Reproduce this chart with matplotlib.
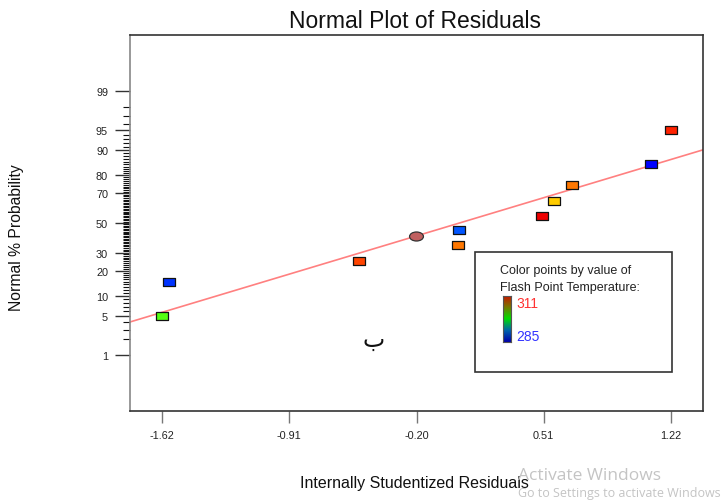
import numpy as np
import matplotlib
matplotlib.use("Agg")
import matplotlib.pyplot as plt
from matplotlib.colors import LinearSegmentedColormap
from matplotlib.patches import Rectangle
from matplotlib.path import Path
from statistics import NormalDist

# data
residuals = [-1.62, -1.58, -0.52, 0.03, 0.035, 0.50, 0.57, 0.67, 1.11, 1.22]
probability = [5, 15, 25, 35, 45, 55, 65, 75, 85, 95]
point_colors = ["#55ff11", "#0033ff", "#ff4400", "#ff7700", "#0055ff",
                "#ee0000", "#ffcc00", "#ff7700", "#0000ff", "#ff2200"]
center_x = -0.205
center_p = 41
fit_mean = 0.04
fit_sd = 1.054
x_ticks = [-1.62, -0.91, -0.20, 0.51, 1.22]
x_lim = (-1.80, 1.40)
y_ticks = [1, 5, 10, 20, 30, 50, 70, 80, 90, 95, 99]
temp_high = 311
temp_low = 285

plt.rcParams['font.family'] = ['Liberation Sans', 'DejaVu Sans']

nd = NormalDist()
_ppf = np.vectorize(lambda v: nd.inv_cdf(v / 100.0), otypes=[float])
_cdf = np.vectorize(lambda v: nd.cdf(v) * 100.0, otypes=[float])


def to_z(p):
    p = np.clip(np.asarray(p, dtype=float), 1e-9, 100 - 1e-9)
    return _ppf(p)


def to_p(z):
    return _cdf(np.asarray(z, dtype=float))


fig = plt.figure(figsize=(7.21, 5.02), dpi=100)
ax = fig.add_axes([130 / 721, 90 / 502, 573 / 721, 376 / 502])
ax.set_yscale('function', functions=(to_z, to_p))
ax.set_xlim(*x_lim)
ax.set_ylim(float(to_p(-3.316)), float(to_p(3.316)))

# fitted normal line
xl = np.array(x_lim)
ax.plot(xl, to_p((xl - fit_mean) / fit_sd), color="#ff8080", lw=1.2, zorder=2)

rect = Path([(-1, -0.64), (1, -0.64), (1, 0.64), (-1, 0.64), (-1, -0.64)], closed=True)
circ = Path.unit_circle()
ell = Path(circ.vertices * np.array([1.0, 0.65]), circ.codes)

for x, p, c in zip(residuals, probability, point_colors):
    ax.plot([x], [p], marker=rect, ms=9.2, mfc="#c8c8c8", mec="none", ls="none", zorder=3)
    ax.plot([x], [p], marker=rect, ms=8, mfc=c, mec="#111111", mew=0.9, ls="none", zorder=4)
ax.plot([center_x], [center_p], marker=ell, ms=10, mfc="#c06060", mec="#333333",
        mew=0.9, ls="none", zorder=4)

ax.set_xticks(x_ticks)
ax.set_xticklabels(["%.2f" % v for v in x_ticks])
ax.set_yticks(y_ticks)
ax.set_yticklabels([str(v) for v in y_ticks])
minor = [v for v in range(2, 99) if v not in y_ticks]
ax.set_yticks(minor, minor=True)
ax.tick_params(axis='x', length=8.6, width=1, color="#777777", labelsize=7.8,
               pad=5, labelcolor="#222222")
ax.tick_params(axis='y', which='major', length=10.8, width=1, color="#333333",
               labelsize=7.8, pad=5, labelcolor="#222222")
ax.tick_params(axis='y', which='minor', length=5, width=0.8, color="#111111")
for s in ax.spines.values():
    s.set_color("#333333")
    s.set_linewidth(1.2)
ax.spines['left'].set_color("#888888")

fig.text(415 / 721, 1 - 22 / 502, "Normal Plot of Residuals", fontsize=16.5,
         ha='center', va='center', color="#111111")
fig.text(414 / 721, 1 - 484 / 502, "Internally Studentized Residuals", fontsize=11.5,
         ha='center', va='center', color="#111111")
fig.text(17 / 721, 1 - 238 / 502, "Normal % Probability", fontsize=11.3, rotation=90,
         ha='center', va='center', color="#111111")

fig.text(374 / 721, 1 - 340 / 502, "\u0628", fontsize=17, family=['DejaVu Sans'],
         ha='center', va='center', color="#111111")

# color legend box
fig.patches.append(Rectangle((475 / 721, 1 - 373 / 502), 197 / 721, 120 / 502,
                             transform=fig.transFigure, fill=False,
                             edgecolor="#333333", lw=1.2))
fig.text(500 / 721, 1 - 271 / 502, "Color points by value of", fontsize=9,
         ha='left', va='center', color="#222222")
fig.text(500 / 721, 1 - 288 / 502, "Flash Point Temperature:", fontsize=9,
         ha='left', va='center', color="#222222")
cmap = LinearSegmentedColormap.from_list(
    "flash", ["#0000aa", "#0066aa", "#00dd00", "#777700", "#cc1100"])
cax = fig.add_axes([503 / 721, 1 - 343 / 502, 8 / 721, 46 / 502])
cax.imshow(np.linspace(temp_low, temp_high, 100)[::-1].reshape(-1, 1), cmap=cmap,
           aspect='auto')
cax.set_xticks([])
cax.set_yticks([])
for s in cax.spines.values():
    s.set_color("#555555")
fig.text(516 / 721, 1 - 304 / 502, str(temp_high), fontsize=10, color="#ff3333",
         ha='left', va='center')
fig.text(516 / 721, 1 - 337 / 502, str(temp_low), fontsize=10, color="#3333ff",
         ha='left', va='center')

# screenshot watermark
fig.text(518 / 721, 1 - 476 / 502, "Activate Windows", fontsize=12.5,
         family=['Open Sans'], color="#c4c4c4", ha='left', va='center')
fig.text(518 / 721, 1 - 494 / 502, "Go to Settings to activate Windows", fontsize=9,
         family=['Open Sans'], color="#c4c4c4", ha='left', va='center')

fig.savefig("out.png", dpi=100)
